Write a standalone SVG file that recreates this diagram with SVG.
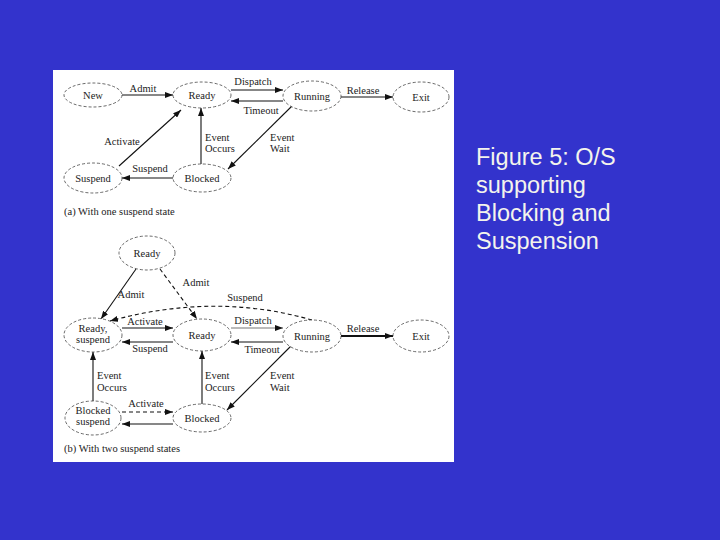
<svg xmlns="http://www.w3.org/2000/svg" width="720" height="540" viewBox="0 0 720 540">
<style>
.n{fill:#fff;stroke:#444;stroke-width:0.8;stroke-dasharray:3,2}
.t{font-family:"Liberation Serif","DejaVu Serif",serif;font-size:10.5px;fill:#222}
.m{text-anchor:middle}
.e{fill:none;stroke:#111;stroke-width:1.1;marker-end:url(#a)}
.d{stroke-dasharray:4,3}
.big{font-family:"Liberation Sans",Arial,sans-serif;font-size:23.5px;fill:#f4f4ec}
</style>
<defs>
<marker id="a" markerUnits="userSpaceOnUse" markerWidth="8" markerHeight="6" refX="8" refY="3" orient="auto">
<path d="M0,0 L8,3 L0,6 z" fill="#111"/>
</marker>
</defs>
<rect width="720" height="540" fill="#3333cc"/>
<rect x="53" y="70" width="401" height="392" fill="#fff"/>

<g id="connectors">
<path class="e" d="M122,95 L173,95"/>
<path class="e" d="M231,90 L283,90"/>
<path class="e" d="M283,101 L231,101"/>
<path class="e" d="M341,97 L393,97"/>
<path class="e" d="M292,106 L228,169"/>
<path class="e" d="M201,164 L201,108"/>
<path class="e" d="M119,166 L181,110"/>
<path class="e" d="M173,178 L122,178"/>

<path class="e" d="M136,269 L101,319"/>
<path class="e d" d="M160,269 L197,319"/>
<path class="e d" d="M312,320 Q215,292 110,321"/>
<path class="e" d="M122,328 L173,328"/>
<path class="e" d="M173,342 L122,342"/>
<path class="e" style="stroke:#777" d="M231,328 L283,328"/>
<path class="e" d="M283,342 L231,342"/>
<path class="e" style="stroke-width:1.8" d="M341,336 L393,336"/>
<path class="e" d="M291,346 L227,410"/>
<path class="e" d="M202,404 L202,351"/>
<path class="e" d="M93,401 L93,352"/>
<path class="e d" d="M122,412 L173,412"/>
<path class="e" d="M173,424 L122,424"/>
</g>

<g id="labels">
<text class="t m" x="143" y="92">Admit</text>
<text class="t m" x="253" y="85">Dispatch</text>
<text class="t m" x="261" y="114">Timeout</text>
<text class="t m" x="363" y="94">Release</text>
<text class="t" x="270" y="141">Event</text>
<text class="t" x="270" y="152">Wait</text>
<text class="t" x="205" y="141">Event</text>
<text class="t" x="205" y="152">Occurs</text>
<text class="t m" x="122" y="145">Activate</text>
<text class="t m" x="150" y="172">Suspend</text>
<text class="t" x="64" y="215">(a) With one suspend state</text>

<text class="t m" x="131" y="298">Admit</text>
<text class="t m" x="196" y="286">Admit</text>
<text class="t m" x="245" y="301">Suspend</text>
<text class="t m" x="145" y="325">Activate</text>
<text class="t m" x="150" y="352">Suspend</text>
<text class="t m" x="253" y="324">Dispatch</text>
<text class="t m" x="262" y="353">Timeout</text>
<text class="t m" x="363" y="332">Release</text>
<text class="t" x="270" y="379">Event</text>
<text class="t" x="270" y="391">Wait</text>
<text class="t" x="205" y="379">Event</text>
<text class="t" x="205" y="391">Occurs</text>
<text class="t" x="97" y="379">Event</text>
<text class="t" x="97" y="391">Occurs</text>
<text class="t m" x="146" y="407">Activate</text>
<text class="t" x="64" y="452">(b) With two suspend states</text>
</g>

<g id="new-a"><ellipse class="n" cx="93" cy="95" rx="29" ry="12"/><text class="t m" x="93" y="99">New</text></g>
<g id="ready-a"><ellipse class="n" cx="202" cy="95" rx="29" ry="13"/><text class="t m" x="202" y="99">Ready</text></g>
<g id="running-a"><ellipse class="n" cx="312" cy="96" rx="29" ry="15"/><text class="t m" x="312" y="100">Running</text></g>
<g id="exit-a"><ellipse class="n" cx="421" cy="97" rx="28" ry="15"/><text class="t m" x="421" y="101">Exit</text></g>
<g id="suspend-a"><ellipse class="n" cx="93" cy="178" rx="29" ry="15"/><text class="t m" x="93" y="182">Suspend</text></g>
<g id="blocked-a"><ellipse class="n" cx="202" cy="178" rx="29" ry="14"/><text class="t m" x="202" y="182">Blocked</text></g>

<g id="ready-top-b"><ellipse class="n" cx="147" cy="253" rx="28" ry="17"/><text class="t m" x="147" y="257">Ready</text></g>
<g id="ready-suspend-b"><ellipse class="n" cx="93" cy="335" rx="29" ry="17"/><text class="t m" x="93" y="332">Ready,</text><text class="t m" x="93" y="343">suspend</text></g>
<g id="ready-b"><ellipse class="n" cx="202" cy="335" rx="29" ry="16"/><text class="t m" x="202" y="339">Ready</text></g>
<g id="running-b"><ellipse class="n" cx="312" cy="336" rx="29" ry="16"/><text class="t m" x="312" y="340">Running</text></g>
<g id="exit-b"><ellipse class="n" cx="421" cy="336" rx="28" ry="16"/><text class="t m" x="421" y="340">Exit</text></g>
<g id="blocked-suspend-b"><ellipse class="n" cx="93" cy="418" rx="28" ry="17"/><text class="t m" x="93" y="414">Blocked</text><text class="t m" x="93" y="425">suspend</text></g>
<g id="blocked-b"><ellipse class="n" cx="202" cy="418" rx="29" ry="14"/><text class="t m" x="202" y="422">Blocked</text></g>

<g id="title">
<text class="big" x="476" y="165">Figure 5: O/S</text>
<text class="big" x="476" y="193">supporting</text>
<text class="big" x="476" y="221">Blocking and</text>
<text class="big" x="476" y="249">Suspension</text>
</g>
</svg>
